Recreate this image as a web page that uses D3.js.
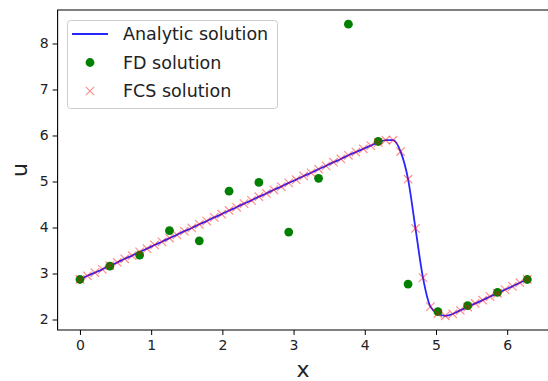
<!DOCTYPE html>
<html>
<head>
<meta charset="utf-8">
<script src="https://cdn.jsdelivr.net/npm/d3@7"></script>
<style>
  body { margin: 0; background: #fff; }
  text { font-family: "DejaVu Sans", sans-serif; fill: #222; }
</style>
</head>
<body>
<svg id="chart" width="548" height="381"></svg>
<script>
// FD solution (coarse grid)
const fdX = [0, 0.419, 0.838, 1.257, 1.676, 2.094, 2.513, 2.932, 3.351, 3.770, 4.189, 4.608, 5.027, 5.445, 5.864, 6.283];
const fdU = [2.87, 3.16, 3.40, 3.93, 3.71, 4.79, 4.98, 3.90, 5.07, 8.42, 5.87, 2.77, 2.17, 2.30, 2.59, 2.87];

// FCS solution (fine grid)
const fcsX = [0, 0.105, 0.209, 0.314, 0.419, 0.524, 0.628, 0.733, 0.838, 0.942,
  1.047, 1.152, 1.257, 1.361, 1.466, 1.571, 1.676, 1.780, 1.885, 1.990,
  2.094, 2.199, 2.304, 2.409, 2.513, 2.618, 2.723, 2.827, 2.932, 3.037,
  3.142, 3.246, 3.351, 3.456, 3.560, 3.665, 3.770, 3.875, 3.979, 4.084,
  4.189, 4.294, 4.398, 4.503, 4.608, 4.712, 4.817, 4.922, 5.027, 5.131,
  5.236, 5.341, 5.445, 5.550, 5.655, 5.760, 5.864, 5.969, 6.074, 6.178, 6.283];
const fcsU = [2.87, 2.95, 3.02, 3.09, 3.17, 3.24, 3.32, 3.39, 3.47, 3.54,
  3.62, 3.69, 3.77, 3.84, 3.92, 3.99, 4.07, 4.14, 4.22, 4.29,
  4.37, 4.44, 4.52, 4.59, 4.67, 4.74, 4.82, 4.89, 4.97, 5.04,
  5.12, 5.19, 5.27, 5.34, 5.42, 5.49, 5.57, 5.64, 5.71, 5.78,
  5.85, 5.90, 5.90, 5.65, 5.05, 3.98, 2.91, 2.28, 2.13, 2.08,
  2.12, 2.20, 2.27, 2.35, 2.42, 2.50, 2.57, 2.65, 2.72, 2.80, 2.87];

// analytic solution sampled on the same fine grid
const analyticX = fcsX;
const analyticU = fcsU;

const xTicks = [0, 1, 2, 3, 4, 5, 6];
const yTicks = [2, 3, 4, 5, 6, 7, 8];
const seriesNames = ["Analytic solution", "FD solution", "FCS solution"];

const svg = d3.select("#chart");
svg.append("rect").attr("width", 548).attr("height", 381).attr("fill", "#fff");

const x = d3.scaleLinear().domain([-0.314, 6.597]).range([57.6, 549.7]);
const y = d3.scaleLinear().domain([1.772, 8.728]).range([330, 10]);

// axes
svg.append("g")
  .attr("transform", "translate(0,330)")
  .call(d3.axisBottom(x).tickValues(xTicks).tickSize(5).tickPadding(5).tickFormat(d3.format("d")))
  .call(g => g.select(".domain").remove())
  .call(g => g.selectAll("text").attr("font-size", 14).attr("fill", "#222").attr("font-family", "DejaVu Sans"));

svg.append("g")
  .attr("transform", "translate(57.6,0)")
  .call(d3.axisLeft(y).tickValues(yTicks).tickSize(5).tickPadding(4).tickFormat(d3.format("d")))
  .call(g => g.select(".domain").remove())
  .call(g => g.selectAll("text").attr("font-size", 14).attr("fill", "#222").attr("font-family", "DejaVu Sans"));

// spines
svg.append("path")
  .attr("d", "M57.6,10 L57.6,330 L549.7,330 L549.7,10 Z")
  .attr("fill", "none").attr("stroke", "#000").attr("stroke-width", 1.1);

const plot = svg.append("g");

// analytic line
const line = d3.line().x((d, i) => x(analyticX[i])).y(d => y(d)).curve(d3.curveMonotoneX);
plot.append("path")
  .datum(analyticU)
  .attr("d", line)
  .attr("fill", "none")
  .attr("stroke", "#0000ff")
  .attr("stroke-opacity", 0.85)
  .attr("stroke-width", 1.8);

// FD points
plot.selectAll("circle.fd")
  .data(fdU)
  .enter()
  .append("circle")
  .attr("class", "fd")
  .attr("cx", (d, i) => x(fdX[i]))
  .attr("cy", d => y(d))
  .attr("r", 4.4)
  .attr("fill", "#008000");

// FCS crosses
const s = 4.2;
const crossPath = `M${-s},${-s}L${s},${s}M${-s},${s}L${s},${-s}`;
plot.selectAll("path.fcs")
  .data(fcsU)
  .enter()
  .append("path")
  .attr("class", "fcs")
  .attr("transform", (d, i) => "translate(" + x(fcsX[i]) + "," + y(d) + ")")
  .attr("d", crossPath)
  .attr("fill", "none")
  .attr("stroke", "#ff0000")
  .attr("stroke-opacity", 0.45)
  .attr("stroke-width", 1.2);

// axis labels
svg.append("text")
  .attr("x", 303).attr("y", 377)
  .attr("text-anchor", "middle")
  .attr("font-size", 22)
  .text("x");

svg.append("text")
  .attr("transform", "translate(27,170) rotate(-90)")
  .attr("text-anchor", "middle")
  .attr("font-size", 22)
  .text("u");

// legend
const legend = svg.append("g");
legend.append("rect")
  .attr("x", 67.5).attr("y", 20.5)
  .attr("width", 210).attr("height", 88)
  .attr("rx", 3)
  .attr("fill", "#fff").attr("fill-opacity", 0.8)
  .attr("stroke", "#cccccc");

const rowY = [34, 62.5, 91];
legend.append("line")
  .attr("x1", 72).attr("x2", 108).attr("y1", rowY[0]).attr("y2", rowY[0])
  .attr("stroke", "#0000ff").attr("stroke-opacity", 0.85).attr("stroke-width", 1.8);
legend.append("circle")
  .attr("cx", 90).attr("cy", rowY[1]).attr("r", 4.4).attr("fill", "#008000");
legend.append("path")
  .attr("transform", "translate(90," + rowY[2] + ")")
  .attr("d", crossPath)
  .attr("fill", "none").attr("stroke", "#ff0000").attr("stroke-opacity", 0.45).attr("stroke-width", 1.2);

legend.selectAll("text.lbl")
  .data(seriesNames)
  .enter()
  .append("text")
  .attr("class", "lbl")
  .attr("x", 123)
  .attr("y", (d, i) => rowY[i])
  .attr("dy", "0.36em")
  .attr("font-size", 17.5)
  .text(d => d);
</script>
</body>
</html>
